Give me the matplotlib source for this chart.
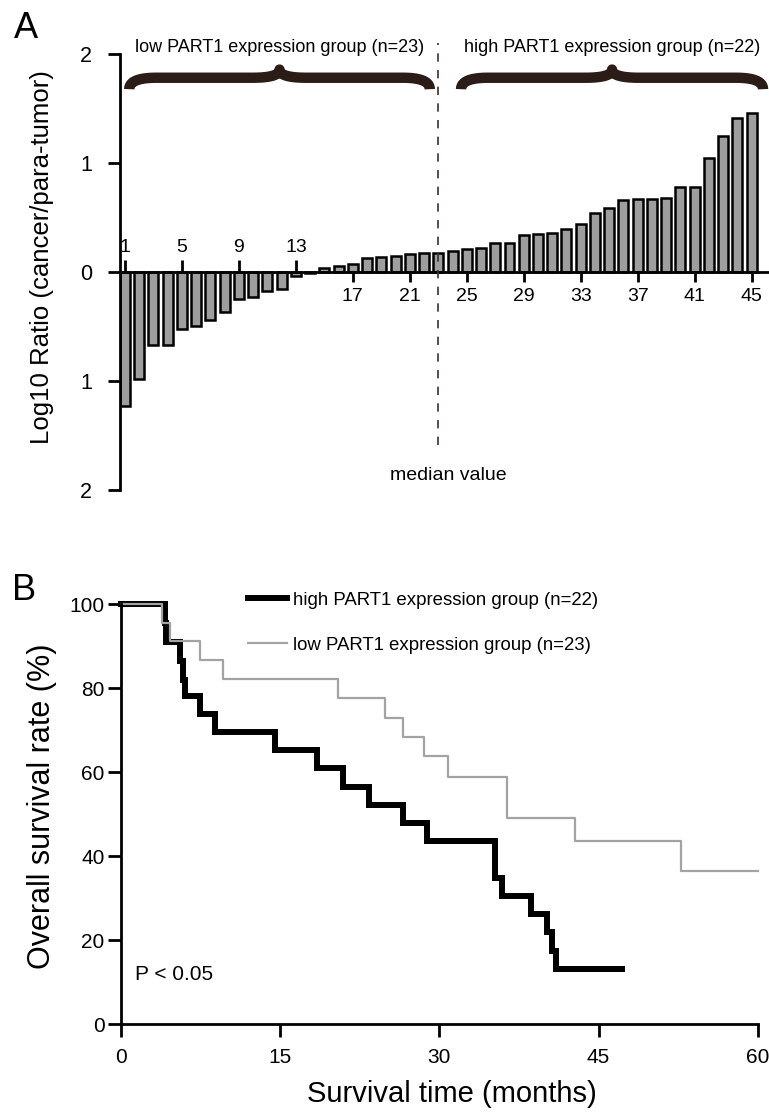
import numpy as np
import matplotlib
matplotlib.use("Agg")
import matplotlib.pyplot as plt

plt.rcParams['font.family'] = ['Liberation Sans', 'DejaVu Sans']

# ---------------- data ----------------
ratio_log10 = [-1.23, -0.98, -0.67, -0.67, -0.52, -0.49, -0.44, -0.36, -0.245, -0.23,
               -0.17, -0.155, -0.035, -0.01, 0.04, 0.055, 0.08, 0.13, 0.14, 0.147,
               0.165, 0.18, 0.18, 0.20, 0.21, 0.225, 0.27, 0.27, 0.345, 0.35,
               0.36, 0.40, 0.44, 0.545, 0.59, 0.66, 0.67, 0.675, 0.68, 0.78,
               0.78, 1.045, 1.25, 1.415, 1.465]
ticks_above = [1, 5, 9, 13]
ticks_below = [17, 21, 25, 29, 33, 37, 41, 45]
n_low = 23
n_high = 22
yticks_a = [-2, -1, 0, 1, 2]
yticklabels_a = ['2', '1', '0', '1', '2']

high_t = [0, 4.2, 4.3, 5.6, 5.9, 6.1, 7.5, 8.9, 14.5, 18.5, 20.9, 23.4, 26.6, 28.8,
          35.2, 35.9, 38.6, 40.1, 40.6, 41.0, 47.2]
high_s = [100, 95.5, 91.0, 86.4, 82.0, 78.0, 73.9, 69.5, 65.2, 60.9, 56.5, 52.2, 47.8, 43.5,
          34.8, 30.5, 26.1, 21.8, 17.4, 13.0, 13.0]
low_t = [0, 3.9, 4.6, 7.5, 9.6, 20.5, 24.9, 26.6, 28.6, 30.8, 36.4, 42.8, 52.8, 60.0]
low_s = [100, 95.5, 91.2, 86.7, 82.1, 77.7, 72.8, 68.4, 63.8, 58.9, 49.0, 43.6, 36.4, 36.4]
xticks_b = [0, 15, 30, 45, 60]
yticks_b = [0, 20, 40, 60, 80, 100]

W, H = 769, 1118
fig = plt.figure(figsize=(W / 100, H / 100), dpi=100)

def fpos(left, top, right, bottom):
    return [left / W, 1 - bottom / H, (right - left) / W, (bottom - top) / H]

# ---------------- Panel A ----------------
ylim_a = (-2.05, 2.25)
axA = fig.add_axes(fpos(120, 27.05, 768, 495.8))
N = len(ratio_log10)
idx = np.arange(1, N + 1)
axA.bar(idx, ratio_log10, width=0.7, color='#9e9e9e', edgecolor='black',
        linewidth=1.8, zorder=2)
axA.set_xlim(0.65, N + 1.15)
axA.set_ylim(*ylim_a)
for s in ['top', 'right']:
    axA.spines[s].set_visible(False)
axA.spines['bottom'].set_position(('data', 0))
axA.spines['left'].set_bounds(-2, 2)
for s in ['left', 'bottom']:
    axA.spines[s].set_linewidth(2)
axA.set_yticks(yticks_a)
axA.set_yticklabels(yticklabels_a)
axA.tick_params(axis='y', direction='out', length=9, width=2, labelsize=15.5, pad=11)
axA.set_xticks(ticks_below)
axA.tick_params(axis='x', direction='out', length=7, width=2, labelsize=14, pad=4)
loc0 = (0 - ylim_a[0]) / (ylim_a[1] - ylim_a[0])
sec = axA.secondary_xaxis(loc0)
sec.set_alignment('top')
sec.set_xticks(ticks_above)
sec.spines['bottom'].set_visible(False)
sec.spines['top'].set_visible(False)
sec.tick_params(axis='x', direction='out', length=9, width=2, labelsize=14, pad=3)
axA.set_ylabel('Log10 Ratio (cancer/para-tumor)', fontsize=18.5)
axA.yaxis.set_label_coords(-0.102, 0.51)

# median dashed line
med = (N + 1) / 2
axA.plot([med, med], [-1.585, 2.10], color='#3a3030', lw=1.2,
         linestyle=(0, (5, 5)), zorder=3, clip_on=False)
axA.text(med + 0.7, -1.86, 'median value', ha='center', va='center', fontsize=14)

# braces
def brace(ax, x0, x1, y_end, y_flat, y_tip, rx, **kw):
    xc = (x0 + x1) / 2
    t = np.linspace(0, 1, 30)[:, None]
    def qb(p0, p1, p2):
        p0, p1, p2 = map(np.array, (p0, p1, p2))
        return (1 - t) ** 2 * p0 + 2 * (1 - t) * t * p1 + t ** 2 * p2
    seg1 = qb((x0, y_end), (x0, y_flat), (x0 + rx, y_flat))
    seg2 = qb((xc - rx, y_flat), (xc, y_flat), (xc, y_tip))
    seg3 = qb((xc, y_tip), (xc, y_flat), (xc + rx, y_flat))
    seg4 = qb((x1 - rx, y_flat), (x1, y_flat), (x1, y_end))
    pts = np.vstack([seg1, seg2, seg3, seg4])
    ax.plot(pts[:, 0], pts[:, 1], solid_capstyle='butt', solid_joinstyle='round',
            clip_on=False, **kw)
    return xc

bcol = '#2b1c17'
xc1 = brace(axA, 1.3, n_low - 0.6, 1.68, 1.785, 1.86, 1.9, color=bcol, lw=7.5)
xc2 = brace(axA, n_low + 1.6, N + 0.8, 1.68, 1.785, 1.86, 1.9, color=bcol, lw=7.5)
axA.text(xc1, 2.06, f'low PART1 expression group (n={n_low})', ha='center',
         va='center', fontsize=13)
axA.text(xc2, 2.06, f'high PART1 expression group (n={n_high})', ha='center',
         va='center', fontsize=13)

fig.text(26 / W, 1 - 28 / H, 'A', fontsize=26, ha='center', va='center')

# ---------------- Panel B ----------------
axB = fig.add_axes(fpos(120.7, 562, 757.9, 1024))
axB.step(high_t, high_s, where='post', color='black', lw=4.3,
         label=f'high PART1 expression group (n={n_high})', clip_on=False,
         solid_joinstyle='miter')
axB.step(low_t, low_s, where='post', color='#a3a3a3', lw=1.6,
         label=f'low PART1 expression group (n={n_low})', clip_on=False)
axB.set_xlim(0, 60)
axB.set_ylim(0, 110)
for s in ['top', 'right']:
    axB.spines[s].set_visible(False)
axB.spines['left'].set_bounds(0, 100)
for s in ['left', 'bottom']:
    axB.spines[s].set_linewidth(2)
axB.set_xticks(xticks_b)
axB.set_yticks(yticks_b)
axB.tick_params(axis='x', direction='out', length=9.5, width=2, labelsize=15, pad=8)
axB.tick_params(axis='y', direction='out', length=9.5, width=2, labelsize=15, pad=2)
axB.set_xlabel('Survival time (months)', fontsize=21, va='top')
axB.xaxis.set_label_coords(0.52, -0.121)
axB.set_ylabel('Overall survival rate (%)', fontsize=22)
axB.yaxis.set_label_coords(-0.1, 0.472)
axB.text(135 / W, 1 - 974 / H, 'P < 0.05', transform=fig.transFigure, fontsize=15,
         ha='left', va='center')
leg = axB.legend(loc='upper left', bbox_to_anchor=(0.1998, 0.9357), frameon=False,
                 fontsize=13.4, handlelength=2.1, handletextpad=0.33, labelspacing=1.5,
                 borderpad=0, borderaxespad=0)

fig.text(24 / W, 1 - 591 / H, 'B', fontsize=26, ha='center', va='center')

fig.savefig('out.png', dpi=100)
